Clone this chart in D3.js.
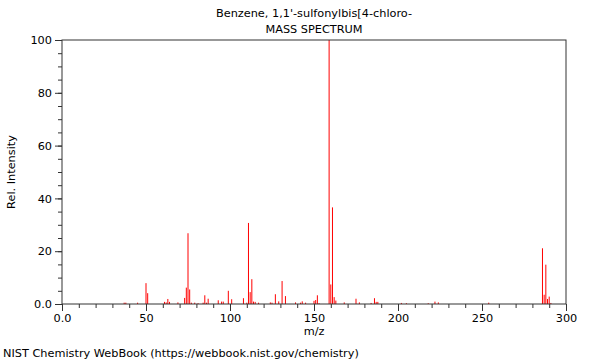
<!DOCTYPE html>
<html>
<head>
<meta charset="utf-8">
<script src="https://cdn.jsdelivr.net/npm/d3@7"></script>
<style>
  body { margin: 0; background: #fff; }
  text { font-family: "DejaVu Sans", sans-serif; font-size: 11.3px; fill: #000; }
</style>
</head>
<body>
<div id="chart"></div>
<script>
// peaks
const mzValues = [37, 38, 45, 50, 51, 61, 62, 63, 64, 69, 73, 74, 75, 76, 77, 79, 81,
  84, 85, 86, 87, 93, 95, 96, 99, 101, 108, 110, 111, 112, 113, 114, 115, 117,
  124, 125, 127, 129, 131, 133, 139, 142, 143, 145, 150, 151, 152, 153,
  159, 160, 161, 162, 163, 168, 175, 177, 184, 186, 187, 188, 202, 205, 218, 222, 224,
  254, 286, 287, 288, 289, 290, 291];
const intensities = [0.5, 0.5, 0.5, 7.9, 4.1, 0.8, 0.6, 1.9, 0.8, 0.6, 2.3, 6.2, 26.8, 5.5, 0.5, 0.5, 0.3,
  0.5, 3.3, 0.5, 2.0, 1.4, 0.9, 0.9, 5.0, 1.8, 2.2, 0.5, 30.7, 4.5, 9.4, 0.9, 0.8, 0.5,
  0.6, 0.5, 3.7, 1.0, 8.7, 3.0, 0.6, 0.5, 1.0, 0.5, 1.2, 1.5, 3.3, 0.3,
  100, 7.4, 36.6, 2.6, 1.3, 0.6, 2.0, 0.6, 0.4, 2.2, 0.8, 0.8, 0.4, 0.3, 0.3, 0.9, 0.6,
  0.5, 21.1, 3.5, 14.9, 1.9, 2.8, 0.4];
const xTicks = [0, 50, 100, 150, 200, 250, 300];
const xTickLabels = ["0.0", "50", "100", "150", "200", "250", "300"];
const yTicks = [0, 20, 40, 60, 80, 100];
const yTickLabels = ["0.0", "20", "40", "60", "80", "100"];
const titleLines = ["Benzene, 1,1'-sulfonylbis[4-chloro-", "MASS SPECTRUM"];

const width = 600, height = 360;
const margin = { top: 40, right: 34, bottom: 56, left: 62 };
const plotW = width - margin.left - margin.right,
  plotH = height - margin.top - margin.bottom;

const x = d3.scaleLinear().domain([0, 300]).range([0, plotW]);
const y = d3.scaleLinear().domain([0, 100]).range([plotH, 0]);

const svg = d3.select("#chart").append("svg")
  .attr("width", width)
  .attr("height", height);

const g = svg.append("g")
  .attr("transform", "translate(" + [margin.left, margin.top] + ")");

// peaks
g.append("g").selectAll("line")
  .data(mzValues.map((m, i) => ({ m: m, v: intensities[i] })))
  .enter().append("line")
  .attr("x1", d => x(d.m)).attr("x2", d => x(d.m))
  .attr("y1", y(0)).attr("y2", d => y(d.v))
  .attr("stroke", "#ff0000")
  .attr("stroke-width", 1);

// minor ticks
g.append("g")
  .attr("transform", "translate(0," + plotH + ")")
  .call(d3.axisBottom(x).tickValues(d3.range(0, 301, 10)).tickSize(4).tickFormat(""))
  .call(a => a.select(".domain").remove());
g.append("g")
  .call(d3.axisLeft(y).tickValues(d3.range(0, 101, 5)).tickSize(4).tickFormat(""))
  .call(a => a.select(".domain").remove());

// major ticks
const xAxis = g.append("g")
  .attr("transform", "translate(0," + plotH + ")")
  .call(d3.axisBottom(x).tickValues(xTicks).tickSize(7).tickPadding(3)
    .tickFormat((d, i) => xTickLabels[i]));
xAxis.select(".domain").remove();

const yAxis = g.append("g")
  .call(d3.axisLeft(y).tickValues(yTicks).tickSize(7).tickPadding(3)
    .tickFormat((d, i) => yTickLabels[i]));
yAxis.select(".domain").remove();

g.selectAll(".tick text").style("font-family", "DejaVu Sans").style("font-size", "11.3px");
g.selectAll(".tick line").attr("stroke", "#333");

// frame
g.append("rect")
  .attr("width", plotW).attr("height", plotH)
  .attr("fill", "none").attr("stroke", "#333").attr("stroke-width", 1);

// titles
svg.selectAll(".title")
  .data(titleLines)
  .enter().append("text")
  .attr("x", margin.left + plotW / 2)
  .attr("y", (d, i) => 17 + i * 16)
  .attr("text-anchor", "middle")
  .text(d => d);

svg.append("text")
  .attr("x", margin.left + plotW / 2)
  .attr("y", 335)
  .attr("text-anchor", "middle")
  .text("m/z");

svg.append("text")
  .attr("transform", "translate(15," + (margin.top + plotH / 2) + ") rotate(-90)")
  .attr("text-anchor", "middle")
  .text("Rel. Intensity");

svg.append("text")
  .attr("x", 3)
  .attr("y", 357)
  .text("NIST Chemistry WebBook (https://webbook.nist.gov/chemistry)");
</script>
</body>
</html>
